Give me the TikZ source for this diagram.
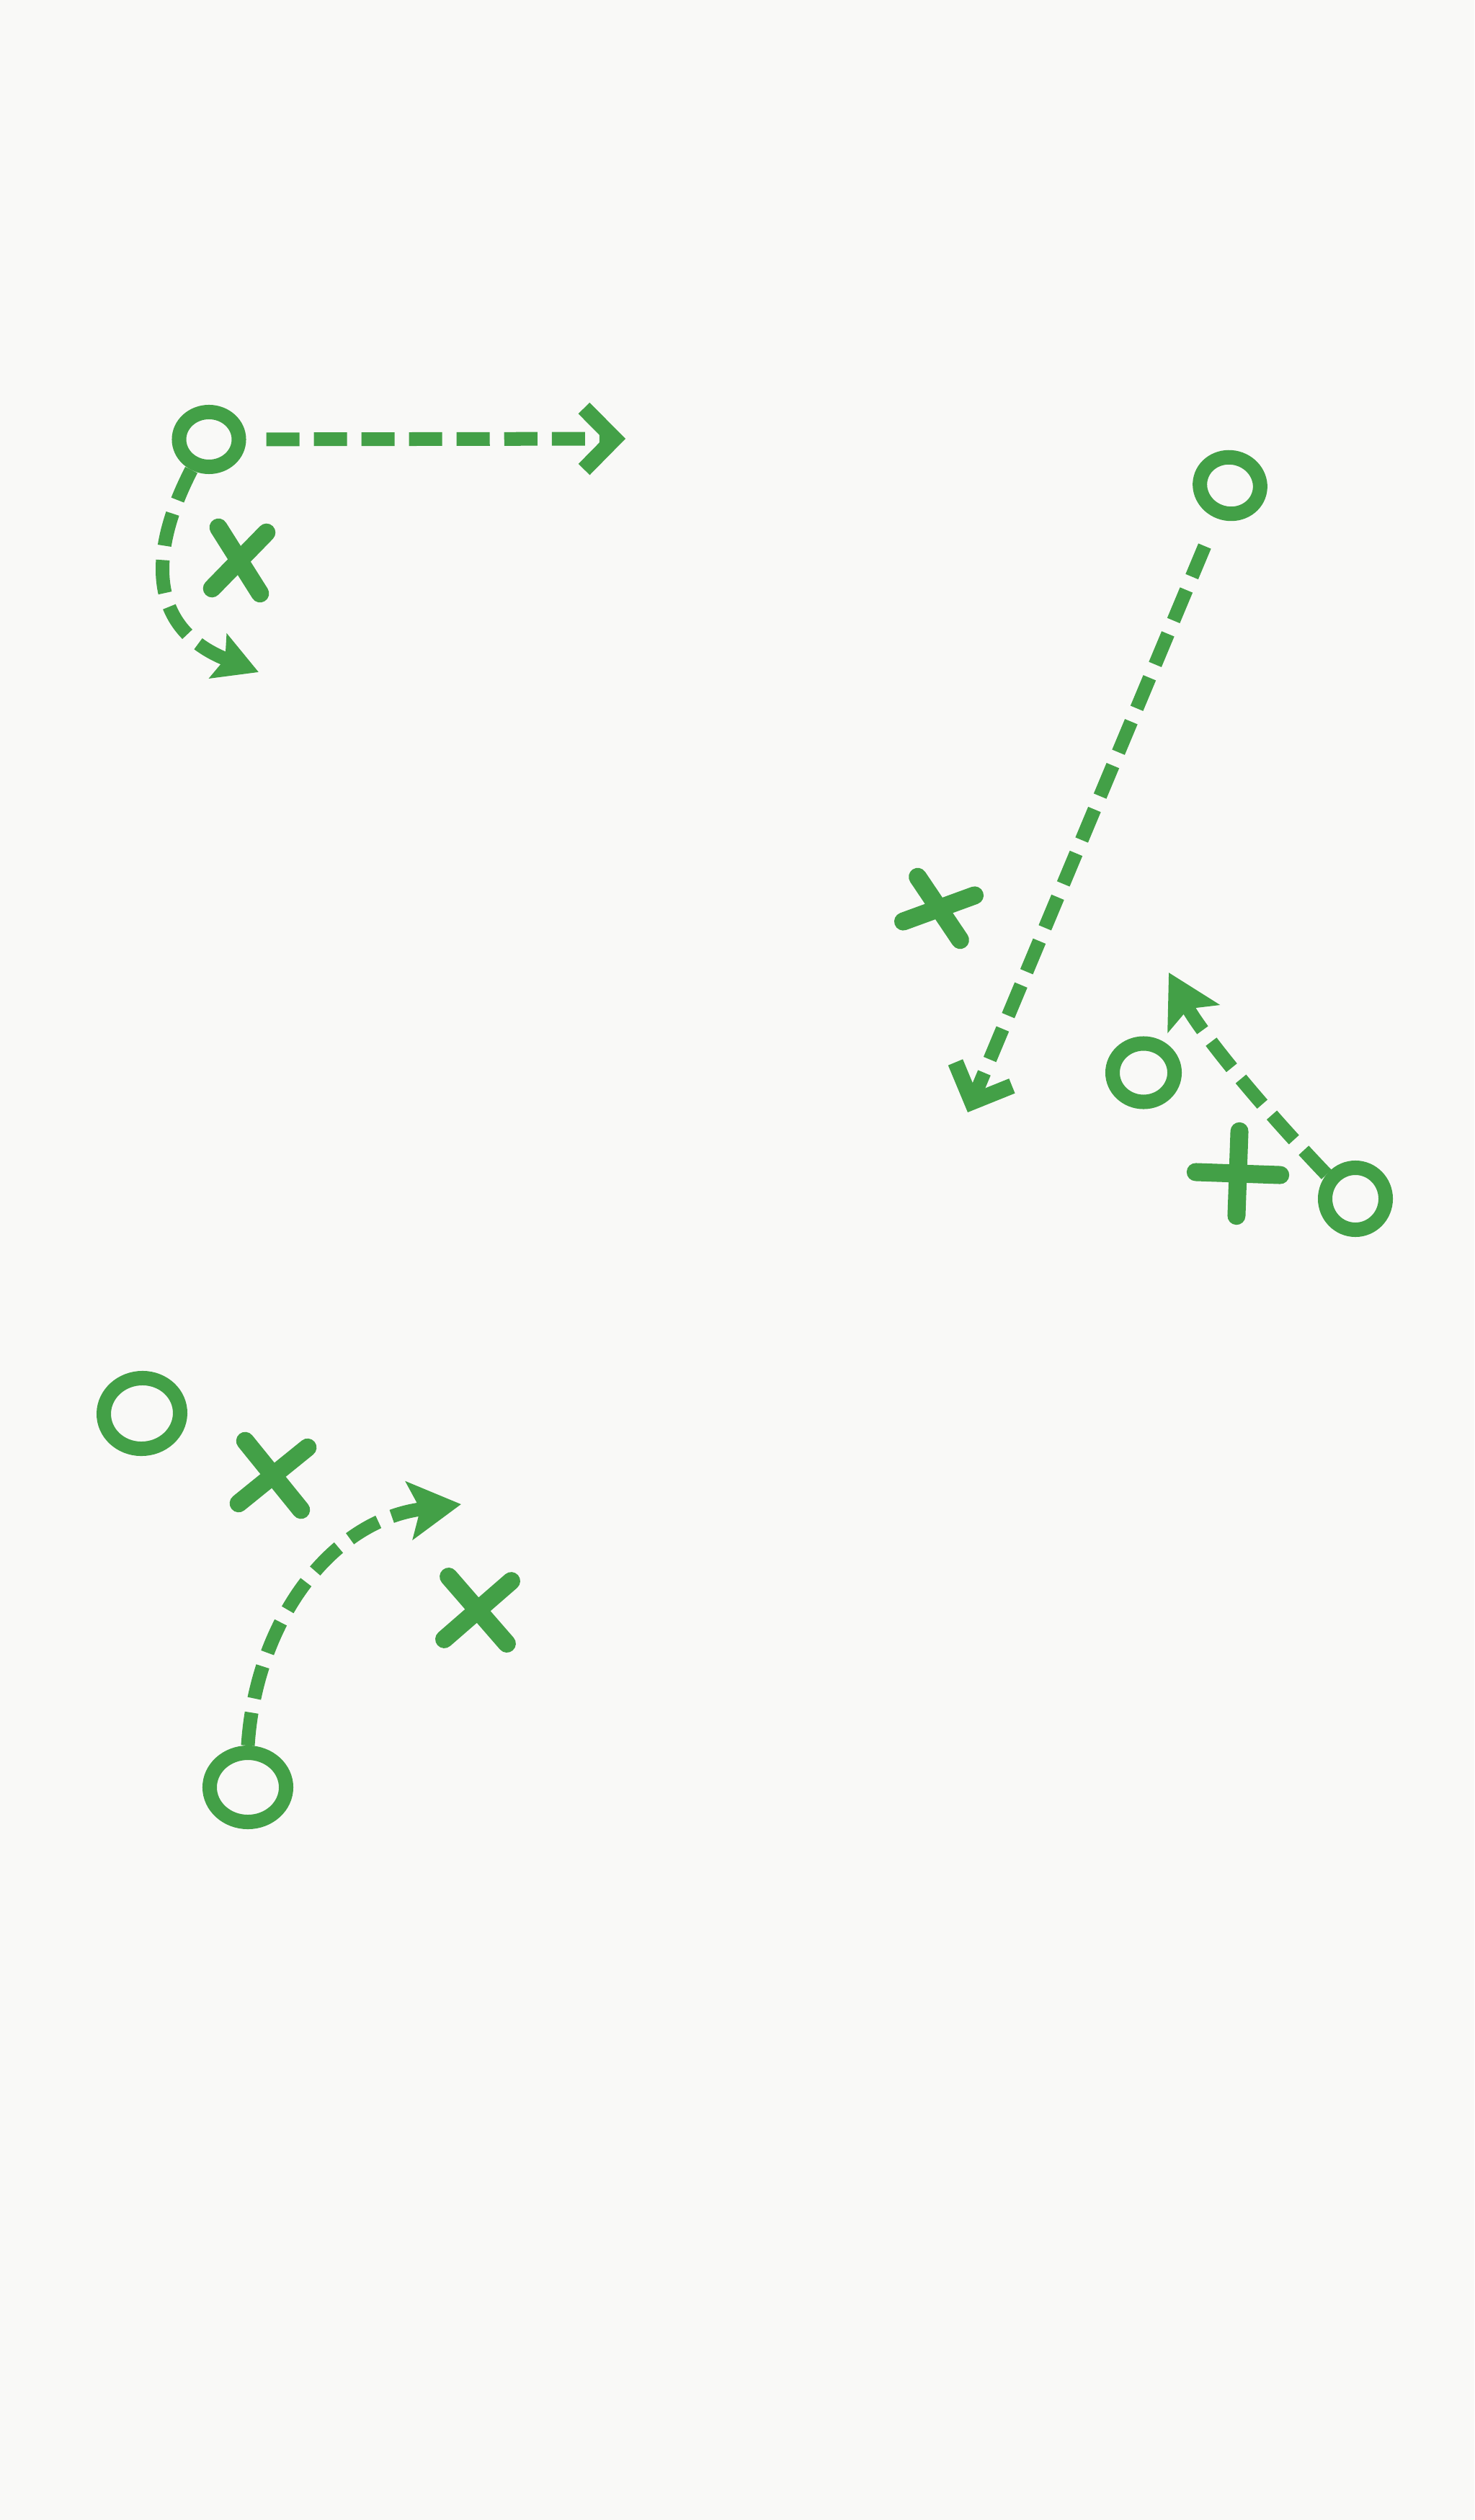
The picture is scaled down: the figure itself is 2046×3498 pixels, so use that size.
\documentclass[tikz,border=0pt]{standalone}
\usetikzlibrary{arrows.meta,shapes.geometric,shapes.misc}
\definecolor{bgc}{HTML}{F9F9F7}
\definecolor{grn}{HTML}{43A047}
\begin{document}
\begin{tikzpicture}[x=0.01cm,y=0.01cm,
  player/.style={draw=grn, line width=0.2cm, ellipse, inner sep=0pt},
  defender/.style={draw=grn, line width=0.25cm, cross out, inner sep=0pt, line cap=round},
  route/.style={draw=grn, line width=0.19cm, dash pattern=on 0.46cm off 0.2cm},
  barb/.style={-{Straight Barb[length=0.42cm,width=0.85cm,line width=0.22cm]}},
  solidtip/.style={-{Stealth[length=0.72cm,width=0.8cm,inset=0.15cm]}},
]
\fill[bgc] (0,0) rectangle (2046,-3498);
\useasboundingbox (0,0) rectangle (2046,-3498);

% players (circles)
\node[player, minimum width=0.83cm, minimum height=0.76cm] (o1) at (290,-610) {};
\node[player, minimum width=0.84cm, minimum height=0.78cm, rotate=-15] (o2) at (1707,-674) {};
\node[player, minimum width=0.86cm, minimum height=0.81cm] (o3) at (1587,-1489) {};
\node[player, minimum width=0.84cm, minimum height=0.86cm] (o4) at (1881,-1664) {};
\node[player, minimum width=1.06cm, minimum height=0.98cm, rotate=5] (o5) at (197,-1962) {};
\node[player, minimum width=1.06cm, minimum height=0.96cm] (o6) at (344,-2481) {};

% defenders (crosses)
\node[defender, minimum width=0.42cm, minimum height=0.6cm, rotate=-6] (x1) at (332,-778) {};
\node[defender, minimum width=0.58cm, minimum height=0.40cm, rotate=-18] (x2) at (1303,-1261) {};
\node[defender, minimum size=0.58cm, rotate=43] (x3) at (1718,-1629) {};
\node[defender, minimum size=0.62cm, rotate=-6] (x4) at (379,-2048) {};
\node[defender, minimum size=0.62cm, rotate=-4] (x5) at (663,-2235) {};

% free ends of routes
\coordinate (t1) at (868,-609);
\coordinate (t2) at (359,-933);
\coordinate (t3) at (1343,-1544);
\coordinate (t4) at (1622,-1350);
\coordinate (t5) at (640,-2088);

% routes
\draw[route, barb, shorten <=0.28cm] (o1) -- (t1);
\draw[route, -{Stealth[length=0.6cm,width=0.65cm,inset=0.1cm]}] (o1.240) .. controls (210,-760) and (200,-870) .. (t2);
\draw[route, barb, shorten <=0.42cm] (o2) -- (t3);
\draw[route, solidtip] (o4.140) .. controls (1740,-1525) and (1665,-1430) .. (t4);
\draw[route, solidtip] (o6.north) .. controls (355,-2250) and (460,-2110) .. (t5);
\end{tikzpicture}
\end{document}
